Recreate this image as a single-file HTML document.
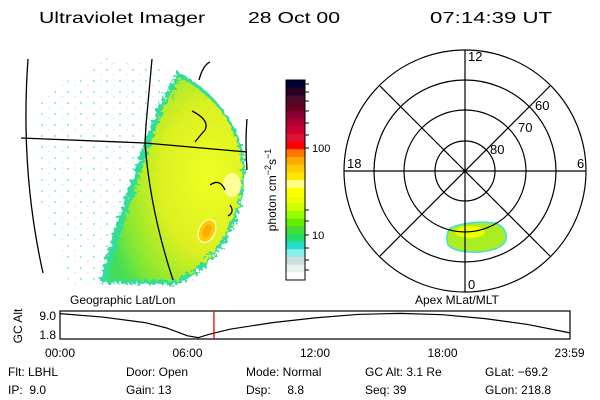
<!DOCTYPE html>
<html><head><meta charset="utf-8"><style>
html,body{margin:0;padding:0;background:#fff;}
svg{display:block;font-family:"Liberation Sans",sans-serif;}
</style></head><body>
<svg id="chart" width="600" height="400" viewBox="0 0 600 400">
<defs>
<filter id="rough" x="-10%" y="-10%" width="120%" height="120%">
<feTurbulence type="fractalNoise" baseFrequency="0.25" numOctaves="2" seed="3" result="n"/>
<feDisplacementMap in="SourceGraphic" in2="n" scale="10"/>
</filter>
<pattern id="specks" width="13" height="11" patternUnits="userSpaceOnUse">
<rect x="2" y="3" width="2" height="2" fill="#66dddd"/><rect x="9" y="8" width="2" height="1" fill="#bbdddd"/>
</pattern>
<radialGradient id="aur" cx="0.75" cy="0.5" r="0.8">
<stop offset="0" stop-color="#eeff22"/><stop offset="0.45" stop-color="#ddf020"/><stop offset="0.8" stop-color="#88e830"/><stop offset="1" stop-color="#44dd55"/>
</radialGradient>
</defs>
<g font-size="16" fill="#000">
<text x="39" y="23" textLength="166" lengthAdjust="spacingAndGlyphs">Ultraviolet Imager</text>
<text x="248" y="23" textLength="92" lengthAdjust="spacingAndGlyphs">28 Oct 00</text>
<text x="430" y="23" textLength="122" lengthAdjust="spacingAndGlyphs">07:14:39 UT</text>
</g>
<g>
<path d="M100,58 C130,60 160,65 175,75 L160,150 L120,285 L70,285 L40,200 L40,100 Z" fill="url(#specks)" opacity="0.6"/>
<path d="M178,72 C215,90 245,130 245,170 C245,225 215,270 175,285 L100,283 C110,240 125,200 135,170 C145,140 155,110 170,85 Z" fill="#33dd99" filter="url(#rough)"/>
<path d="M180,78 C215,95 242,130 242,170 C242,222 212,265 175,280 L108,280 C118,240 132,200 142,170 C152,140 160,110 175,88 Z" fill="url(#aur)" filter="url(#rough)"/>
<ellipse cx="232" cy="185" rx="9" ry="12" fill="#ffff99"/>
<ellipse cx="207" cy="231" rx="8" ry="12" transform="rotate(25 207 231)" fill="#ffcc00" stroke="#fff" stroke-width="1"/>
<ellipse cx="207" cy="231" rx="4" ry="7" transform="rotate(25 207 231)" fill="#ffaa00"/>
<g fill="none" stroke="#000" stroke-width="1.3">
<path d="M28,59 Q20,170 43,273"/>
<path d="M21,138 L145,143 L247,152"/>
<path d="M152,59 L146,125 L145,143 Q150,210 173,280"/>
<path d="M247,119 Q245,145 247,170"/>
<path d="M192,111 Q210,120 205,130 Q198,138 195,142"/>
<path d="M199,80 Q203,65 210,62"/>
<path d="M210,185 Q220,178 225,190"/>
<path d="M230,205 Q235,212 228,216"/>
</g>
</g>
<g id="colorbar"></g>
<text transform="translate(276,190) rotate(-90)" text-anchor="middle" font-size="12">photon cm<tspan dy="-5" font-size="9">−2</tspan><tspan dy="5">s</tspan><tspan dy="-5" font-size="9">−1</tspan></text>
<text x="312" y="152" font-size="11">100</text>
<text x="312" y="239" font-size="11">10</text>
<g>
<path d="M450,228 Q470,220 495,223 Q508,228 506,240 Q502,250 480,252 Q455,253 448,245 Q445,235 450,228 Z" fill="#aaee22" stroke="#44dddd" stroke-width="1.5"/>
<ellipse cx="470" cy="232" rx="15" ry="6" fill="#eeff00"/>
<g fill="none" stroke="#000" stroke-width="1.2">
<circle cx="465" cy="171" r="121"/><circle cx="465" cy="171" r="91"/><circle cx="465" cy="171" r="61"/><circle cx="465" cy="171" r="30"/>
<line x1="344" y1="171" x2="586" y2="171"/><line x1="465" y1="50" x2="465" y2="292"/>
<line x1="380" y1="86" x2="550" y2="256"/><line x1="550" y1="86" x2="380" y2="256"/>
</g>
<g font-size="13" fill="#000">
<text x="468" y="61">12</text>
<text x="535" y="110">60</text>
<text x="518" y="132">70</text>
<text x="490" y="154">80</text>
<text x="347" y="168">18</text>
<text x="577" y="168">6</text>
<text x="468" y="289">0</text>
</g>
</g>
<text x="70" y="304" font-size="12">Geographic Lat/Lon</text>
<text x="415" y="304" font-size="12">Apex MLat/MLT</text>
<g id="altplot"></g>
<g font-size="12" fill="#000">
<text x="8" y="376">Flt: LBHL</text><text x="8" y="394">IP:&#160;&#160;9.0</text>
<text x="126" y="376">Door: Open</text><text x="126" y="394">Gain: 13</text>
<text x="246" y="376">Mode: Normal</text><text x="246" y="394">Dsp:&#160;&#160;&#160;&#160;&#160;8.8</text>
<text x="365" y="376">GC Alt: 3.1 Re</text><text x="365" y="394">Seq: 39</text>
<text x="485" y="376">GLat: −69.2</text><text x="485" y="394">GLon: 218.8</text>
</g>
</svg>
<script>
const barColors = ["#000033","#2a0022","#4a0a2a","#660022","#880033","#aa0033","#cc0033","#dd1133","#ff0000","#ff7700","#ffaa00","#ffcc00","#ffe800","#ffff88","#ffff00","#eeff00","#ccff00","#99ff00","#66ee00","#44dd33","#22dd66","#22ddcc","#88eeee","#ccdddd","#e6f2ee","#ffffff"];
const hours = [0,2,4,5,6,6.5,7,8,10,12,14,16,18,20,22,24];
const altRe = [9.9,8.6,6.5,4.5,1.5,0.8,2.0,4.0,6.5,8.3,9.6,10.0,9.5,8.0,5.8,2.6];
const timeTicks = [0,6,12,18,23.98];
const timeLabels = ["00:00","06:00","12:00","18:00","23:59"];
const altTicks = [9.0,1.8];
const currentHour = 7.244;
const NS="http://www.w3.org/2000/svg";
function mk(t,a,p){const e=document.createElementNS(NS,t);for(const k in a)e.setAttribute(k,a[k]);p.appendChild(e);return e;}
const cb=document.getElementById('colorbar');
const cbTop=80,cbH=200,bh=cbH/barColors.length;
barColors.forEach((c,i)=>{const r=mk('rect',{x:286,y:cbTop+i*bh,width:19,height:bh+0.5,fill:c},cb);

});
const fr=mk('rect',{x:286,y:cbTop,width:19,height:cbH,fill:'none',stroke:'#000','stroke-width':1},cb);


[84,92,101,111,123,135,148,210,221,235,248,260,270].forEach(y=>mk('line',{x1:305,x2:309,y1:y,y2:y,stroke:'#000'},cb));
const ap=document.getElementById('altplot');
const X0=60,X1=570,Y0=311,Y1=339;
const xs=h=>X0+h/24*(X1-X0);
const ys=v=>335-(v-1.8)/7.2*19;
const box=mk('rect',{x:X0,y:Y0,width:X1-X0,height:Y1-Y0,fill:'none',stroke:'#000','stroke-width':1.2},ap);


const pl=mk('polyline',{points:hours.map((h,i)=>xs(h)+','+Math.max(Y0,Math.min(Y1,ys(altRe[i])))).join(' '),fill:'none',stroke:'#000','stroke-width':1.2},ap);


const rl=mk('line',{x1:xs(currentHour),x2:xs(currentHour),y1:Y0,y2:Y1,stroke:'#ee0000','stroke-width':1.3},ap);


timeTicks.forEach((t,i)=>{const tx=mk('text',{x:xs(t),y:357,'text-anchor':'middle','font-size':12},ap);tx.textContent=timeLabels[i];

});
altTicks.forEach(v=>{const tx=mk('text',{x:56,y:ys(v)+4,'text-anchor':'end','font-size':12},ap);tx.textContent=v.toFixed(1);

});
const yt=mk('text',{transform:'translate(22,326) rotate(-90)','text-anchor':'middle','font-size':12},ap);yt.textContent='GC Alt';


</script>
</body></html>
